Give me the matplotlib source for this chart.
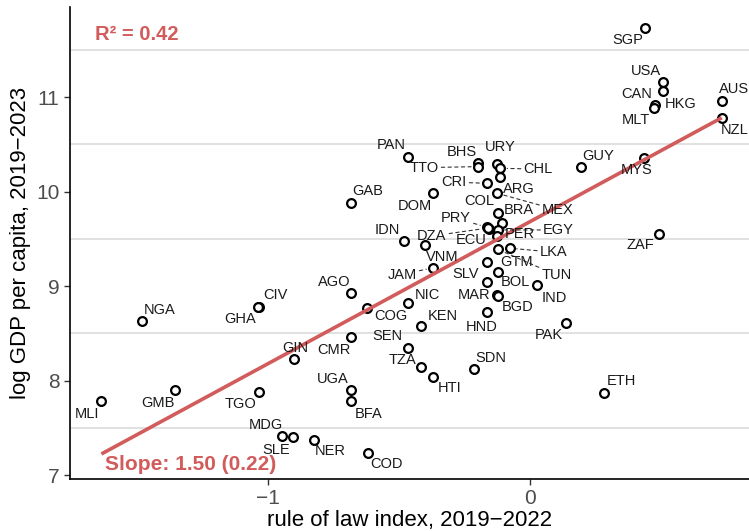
import numpy as np
import matplotlib
matplotlib.use("Agg")
import matplotlib.pyplot as plt

plt.rcParams['font.family'] = ['Liberation Sans', 'DejaVu Sans']

# rule of law index (x), log GDP per capita (y)
codes = ['SGP', 'USA', 'CAN', 'HKG', 'MLT', 'AUS', 'NZL', 'MYS', 'GUY', 'ZAF',
         'PAN', 'BHS', 'TTO', 'URY', 'CHL', 'ARG', 'CRI', 'DOM', 'MEX', 'COL',
         'BRA', 'EGY', 'PRY', 'ECU', 'DZA', 'PER', 'GAB', 'IDN', 'VNM', 'JAM',
         'LKA', 'TUN', 'GTM', 'SLV', 'BOL', 'IND', 'MAR', 'BGD', 'HND', 'NIC',
         'KEN', 'COG', 'AGO', 'SEN', 'TZA', 'HTI', 'SDN', 'PAK', 'ETH', 'CMR',
         'GIN', 'UGA', 'BFA', 'TGO', 'GMB', 'MLI', 'NGA', 'CIV', 'GHA', 'MDG',
         'SLE', 'NER', 'COD']
rule_of_law = [0.440, 0.510, 0.510, 0.481, 0.474, 0.735, 0.735, 0.438, 0.196, 0.493,
               -0.463, -0.197, -0.197, -0.125, -0.112, -0.112, -0.163, -0.371, -0.125, -0.122,
               -0.106, -0.122, -0.163, -0.157, -0.160, -0.125, -0.683, -0.479, -0.399, -0.369,
               -0.076, -0.122, -0.163, -0.122, -0.163, 0.028, -0.125, -0.122, -0.163, -0.463,
               -0.415, -0.622, -0.682, -0.463, -0.415, -0.371, -0.211, 0.140, 0.283, -0.682,
               -0.902, -0.682, -0.682, -1.036, -1.356, -1.637, -1.482, -1.036, -1.040, -0.947,
               -0.904, -0.826, -0.619]
log_gdp = [11.730, 11.165, 11.069, 10.918, 10.883, 10.960, 10.777, 10.354, 10.259, 9.553,
           10.371, 10.301, 10.265, 10.294, 10.248, 10.159, 10.089, 9.990, 9.984, 9.772,
           9.672, 9.595, 9.624, 9.603, 9.615, 9.532, 9.884, 9.482, 9.437, 9.196,
           9.402, 9.391, 9.260, 9.154, 9.048, 9.013, 8.907, 8.895, 8.724, 8.820,
           8.579, 8.767, 8.925, 8.343, 8.142, 8.037, 8.121, 8.614, 7.867, 8.466,
           8.227, 7.902, 7.789, 7.884, 7.902, 7.789, 8.632, 8.784, 8.775, 7.419,
           7.402, 7.370, 7.232]

# label offsets in pixels (dx, dy), and whether a leader segment is drawn
label_dx = [-17, -17, -26, 25, -18, 12, 13, -7, 17, -18,
            -17, -16, -54, 3, 38, 19, -33, -18, 61, -18,
            17, 61, -31, -17, -56, 23, 17, -17, 17, -31,
            44, 59, 30, -32, 28, 17, -23, 20, -5, 19,
            22, 24, -17, -21, -19, 17, 16, -17, 18, -17,
            2, -18, 17, -18, -17, -14, 18, 17, -17, -16,
            -17, 17, 19]
label_dy = [-12, 11, -3, 1, -12, 12, -12, -12, 11, -11,
            12, 11, -1, 17, -1, -12, 1, -13, -17, 12,
            13, 0, 9, -11, -8, 2, 12, 11, -12, -7,
            -4, -26, 0, -2, 0, -13, 0, -11, -15, 8,
            10, -8, 11, 12, 7, -11, 11, -12, 12, -13,
            11, 11, -13, -12, -13, -13, 11, 12, -12, 11,
            -13, -11, -11]
segment = ['TTO', 'CHL', 'CRI', 'MEX', 'EGY', 'PRY', 'DZA', 'JAM', 'LKA', 'TUN']

fit_slope = 1.50
fit_se = 0.22
fit_intercept = 9.68
r_squared = 0.42

red = '#d25b5b'

fig = plt.figure(figsize=(7.49, 5.31), dpi=100)
ax = fig.add_axes([0.0935, 0.098, 0.9065, 0.889])

x = np.array(rule_of_law)
y = np.array(log_gdp)

for g in [7.5, 8.5, 9.5, 10.5, 11.5]:
    ax.axhline(g, color='#d9d9d9', lw=1.1, zorder=0)

ax.scatter(x, y, s=40, facecolors='white', edgecolors='black', linewidths=1.6, zorder=3)

xs = np.array([x.min(), x.max()])
ax.plot(xs, fit_intercept + fit_slope * xs, color=red, lw=2.6, zorder=4,
        solid_capstyle='butt')

for c, xi, yi, dx, dy in zip(codes, x, y, label_dx, label_dy):
    if c in segment:
        ax.annotate(c, xy=(xi, yi), xytext=(dx, dy), textcoords='offset pixels',
                    ha='center', va='center', fontsize=10.5, color='#1a1a1a', zorder=5,
                    arrowprops=dict(arrowstyle='-', color='#333333', lw=0.8,
                                    linestyle=(0, (3, 3)), shrinkA=0, shrinkB=5))
    else:
        ax.annotate(c, xy=(xi, yi), xytext=(dx, dy), textcoords='offset pixels',
                    ha='center', va='center', fontsize=10.5, color='#1a1a1a', zorder=5)

ax.text(0.037, 0.941, 'R² = %.2f' % r_squared, transform=ax.transAxes,
        color=red, fontsize=14.5, fontweight='bold', va='center', ha='left')
ax.text(0.051, 0.030, 'Slope: %.2f (%.2f)' % (fit_slope, fit_se), transform=ax.transAxes,
        color=red, fontsize=15, fontweight='bold', va='center', ha='left')

ax.set_xlim(-1.757, 0.839)
ax.set_ylim(6.96, 11.955)
ax.set_xticks([-1, 0])
ax.set_xticklabels(['−1', '0'])
ax.set_yticks([7, 8, 9, 10, 11])
ax.tick_params(labelsize=15, labelcolor='#4d4d4d', color='#333333', length=4, width=1)
for s in ['top', 'right']:
    ax.spines[s].set_visible(False)
for s in ['left', 'bottom']:
    ax.spines[s].set_linewidth(1.2)
ax.set_xlabel('rule of law index, 2019−2022', fontsize=16, labelpad=1)
ax.set_ylabel('log GDP per capita, 2019−2023', fontsize=16, labelpad=4)

fig.savefig('out.png', dpi=100)
